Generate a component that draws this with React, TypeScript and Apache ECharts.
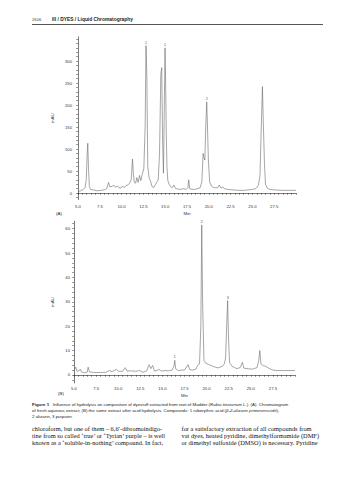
import React, { useEffect, useRef } from "react";
import * as echarts from "echarts";

// Chromatogram (A): fresh aqueous extract
const timesA = [5.0, 5.3, 5.6, 5.8, 5.95, 6.05, 6.12, 6.2, 6.3, 6.45, 6.8, 7.2, 7.6, 8.0, 8.3, 8.5, 8.65, 8.9, 9.1, 9.3, 9.5, 9.7, 9.9, 10.1, 10.3, 10.5, 10.7, 10.9, 11.1, 11.25, 11.35, 11.45, 11.6, 11.75, 11.9, 12.05, 12.2, 12.4, 12.55, 12.7, 12.8, 12.9, 13.0, 13.15, 13.3, 13.5, 13.7, 13.9, 14.05, 14.2, 14.35, 14.5, 14.6, 14.7, 14.8, 14.9, 14.98, 15.05, 15.12, 15.2, 15.3, 15.45, 15.6, 15.8, 16.0, 16.2, 16.5, 16.8, 17.1, 17.4, 17.6, 17.7, 17.8, 18.2, 18.6, 19.0, 19.2, 19.35, 19.45, 19.55, 19.65, 19.76, 19.85, 19.95, 20.1, 20.3, 20.6, 21.0, 21.2, 21.4, 21.6, 21.75, 22.2, 22.8, 23.4, 24.0, 24.5, 25.0, 25.4, 25.7, 25.87, 26.02, 26.15, 26.25, 26.38, 26.5, 26.7, 27.0, 27.5, 28.5, 29.5, 30.0];
const valuesA = [4, 5, 8, 12, 30, 90, 113, 60, 15, 8, 7, 5, 6, 7, 10, 24, 14, 15, 18, 13, 16, 12, 11, 16, 12, 17, 18, 22, 30, 77, 45, 25, 22, 35, 24, 40, 28, 45, 56, 150, 335, 260, 60, 35, 28, 14, 13, 20, 25, 30, 90, 270, 285, 120, 45, 200, 330, 250, 140, 60, 28, 20, 15, 12, 18, 10, 9, 8, 10, 8, 12, 30, 10, 8, 9, 12, 25, 90, 80, 75, 150, 207, 150, 75, 25, 16, 12, 12, 18, 11, 14, 10, 8, 7, 6, 6, 7, 8, 10, 18, 40, 150, 242, 160, 70, 20, 11, 8, 7, 6, 6, 6];
const peakTimesA = [12.8, 14.98, 19.76];
const peakValuesA = [335, 330, 207];
const peakNamesA = ["1", "1", "2"];

// Chromatogram (B): after acid hydrolysis
const timesB = [5.0, 5.2, 5.35, 5.6, 5.7, 5.85, 6.2, 6.5, 6.6, 6.75, 7.2, 8.0, 8.6, 9.0, 9.3, 9.8, 10.0, 10.5, 10.8, 11.0, 11.5, 12.0, 12.4, 12.8, 13.2, 13.5, 13.7, 13.9, 14.1, 14.4, 14.6, 14.9, 15.3, 15.7, 16.1, 16.3, 16.4, 16.5, 16.8, 17.2, 17.5, 17.9, 18.1, 18.4, 18.8, 19.0, 19.2, 19.35, 19.45, 19.55, 19.7, 19.9, 20.3, 20.8, 21.3, 21.8, 22.0, 22.15, 22.27, 22.38, 22.48, 22.6, 22.9, 23.4, 23.8, 24.05, 24.2, 24.7, 25.2, 25.7, 25.9, 26.02, 26.15, 26.4, 26.7, 27.0, 27.5, 28.0, 29.0, 30.0];
const valuesB = [1.8, 3.2, 1.5, 1.8, 2.4, 1.2, 0.9, 1.2, 3.2, 1.3, 1.0, 1.0, 1.1, 1.8, 1.4, 2.3, 1.5, 1.5, 3.0, 1.6, 1.7, 1.5, 1.8, 1.1, 1.6, 4.2, 2.6, 3.9, 1.6, 1.8, 2.3, 1.6, 1.8, 1.7, 2.0, 3.5, 6.0, 2.5, 1.8, 2.0, 2.0, 4.2, 2.2, 2.0, 2.4, 4.0, 4.5, 20, 61.5, 30, 6, 4.8, 4.2, 3.4, 2.9, 3.6, 4.5, 7, 20, 30.5, 15, 5, 3.5, 2.6, 3.0, 5.2, 2.8, 2.5, 2.4, 3.0, 6.0, 10, 4.5, 3.8, 3.5, 2.8, 2.0, 1.8, 1.8, 1.8];
const peakTimesB = [16.4, 19.45, 22.38];
const peakValuesB = [6.0, 61.5, 30.5];
const peakNamesB = ["1", "2", "3"];

// Axis labels
const xTickLabels = [5, 7.5, 10, 12.5, 15, 17.5, 20, 22.5, 25, 27.5];
const yTickLabelsA = [0, 50, 100, 150, 200, 250, 300];
const yTickLabelsB = [0, 10, 20, 30, 40, 50, 60];

// Texts
const headerPage = "2606";
const headerTitle = "III / DYES / Liquid Chromatography";
const captionLines = [
  "{b|Figure 1}   Influence of hydrolysis on composition of dyestuff extracted from root of Madder ({i|Rubia tinctorium} L.). (A)  Chromatogram",
  "of fresh aqueous extract; (B) the same extract after acid hydrolysis. Compounds: 1 ruberythric acid ({i|β-2-alizarin primeveroside}),",
  "2 alizarin, 3 purpurin.",
];
const bodyLeft = [
  "chloroform, but one of them – 6,6′-dibromoindigo-",
  "tine from so called ‘true’ or ‘Tyrian’ purple – is well",
  "known as a ‘soluble-in-nothing’ compound. In fact,",
];
const bodyRight = [
  "for a satisfactory extraction of all compounds from",
  "vat dyes, heated pyridine, dimethylformamide (DMF)",
  "or dimethyl sulfoxide (DMSO) is necessary. Pyridine",
];

function range(a: number, b: number, step: number) {
  const out: number[] = [];
  for (let v = a; v <= b + 1e-9; v += step) out.push(Math.round(v * 100) / 100);
  return out;
}

const FONT = "Liberation Sans, Arial, sans-serif";
const SERIF = "Liberation Serif, Times New Roman, serif";

export default function App() {
  const ref = useRef<HTMLDivElement>(null);
  useEffect(() => {
    if (!ref.current) return;
    const chart = echarts.init(ref.current, undefined, { renderer: "svg" });
    const axisLine = { show: true, lineStyle: { color: "#222", width: 0.6 } };
    const lblStyle = { fontSize: 4.2, color: "#333", fontFamily: FONT };
    const xAxisBase = (gridIndex: number, gap: number, margin: number) => ({
      type: "value",
      gridIndex,
      min: 5,
      max: 30,
      name: "Min",
      nameLocation: "middle",
      nameGap: gap,
      nameTextStyle: { fontSize: 4.4, color: "#333", fontFamily: FONT },
      axisLine,
      splitLine: { show: false },
      axisTick: { show: true, length: 1.8, lineStyle: { color: "#222", width: 0.5 }, customValues: range(5, 30, 0.5) },
      axisLabel: { ...lblStyle, margin, customValues: xTickLabels, formatter: (v: number) => v.toFixed(1) },
    });
    const yAxisBase = (gridIndex: number, min: number, max: number, ticks: number[], labels: number[], margin: number) => ({
      type: "value",
      gridIndex,
      min,
      max,
      name: "mAU",
      nameLocation: "middle",
      nameRotate: 90,
      nameGap: 15,
      nameTextStyle: { fontSize: 4.4, color: "#333", fontFamily: FONT },
      axisLine,
      splitLine: { show: false },
      axisTick: { show: true, length: 1.8, lineStyle: { color: "#222", width: 0.5 }, customValues: ticks },
      axisLabel: { ...lblStyle, margin, customValues: labels },
    });
    const lineStyle = { color: "#6a6a6a", width: 0.6 };
    const peakLabel = { show: true, position: "top", distance: 1.5, fontSize: 4.4, color: "#333", fontFamily: FONT, formatter: (p: any) => p.value[2] };

    const textEl = (x: number, y: number, text: string, style: any = {}) => ({
      type: "text",
      x,
      y,
      style: { text, fill: "#222", fontFamily: FONT, fontSize: 4.4, textVerticalAlign: "middle", ...style },
    });

    chart.setOption({
      animation: false,
      backgroundColor: "#fff",
      grid: [
        { left: 78, top: 36.8, width: 218, height: 162.8 },
        { left: 74, top: 221.3, width: 221, height: 161.7 },
      ],
      xAxis: [xAxisBase(0, 12, 5), xAxisBase(1, 10, 3)],
      yAxis: [
        yAxisBase(0, -15, 355, range(-10, 350, 10), yTickLabelsA, 6),
        yAxisBase(1, -3.3, 63, range(-2, 62, 2), yTickLabelsB, 4),
      ],
      series: [
        { type: "line", xAxisIndex: 0, yAxisIndex: 0, data: timesA.map((t, i) => [t, valuesA[i]]), symbol: "none", lineStyle },
        { type: "scatter", xAxisIndex: 0, yAxisIndex: 0, symbolSize: 0, data: peakTimesA.map((t, i) => [t, peakValuesA[i], peakNamesA[i]]), label: peakLabel },
        { type: "line", xAxisIndex: 1, yAxisIndex: 1, data: timesB.map((t, i) => [t, valuesB[i]]), symbol: "none", lineStyle },
        { type: "scatter", xAxisIndex: 1, yAxisIndex: 1, symbolSize: 0, data: peakTimesB.map((t, i) => [t, peakValuesB[i], peakNamesB[i]]), label: peakLabel },
      ],
      graphic: [
        textEl(32, 19, headerPage, { fontSize: 4.2, fill: "#444" }),
        textEl(52, 19, headerTitle, { fontSize: 4.9, fontWeight: "bold" }),
        { type: "line", shape: { x1: 32, y1: 24.5, x2: 323, y2: 24.5 }, style: { stroke: "#555", lineWidth: 1.2 } },
        textEl(56, 213, "(A)", { fontSize: 4.4 }),
        textEl(58, 393, "(B)", { fontSize: 4.4 }),
        {
          type: "text",
          x: 32,
          y: 401,
          style: {
            text: captionLines.join("\n"),
            fill: "#222",
            fontFamily: FONT,
            fontSize: 4.4,
            lineHeight: 6,
            textVerticalAlign: "top",
            rich: {
              b: { fontWeight: "bold", fontSize: 4.4, lineHeight: 6, fontFamily: FONT, fill: "#222" },
              i: { fontStyle: "italic", fontSize: 4.4, lineHeight: 6, fontFamily: FONT, fill: "#222" },
            },
          },
        },
        {
          type: "text",
          x: 32,
          y: 425,
          style: { text: bodyLeft.join("\n"), fill: "#111", fontFamily: SERIF, fontSize: 6.4, lineHeight: 7, textVerticalAlign: "top" },
        },
        {
          type: "text",
          x: 181.5,
          y: 425,
          style: { text: bodyRight.join("\n"), fill: "#111", fontFamily: SERIF, fontSize: 6.4, lineHeight: 7, textVerticalAlign: "top" },
        },
      ],
    });
    return () => chart.dispose();
  }, []);
  return <div ref={ref} style={{ position: "absolute", left: 0, top: 0, width: 356, height: 480, background: "#fff" }} />;
}
